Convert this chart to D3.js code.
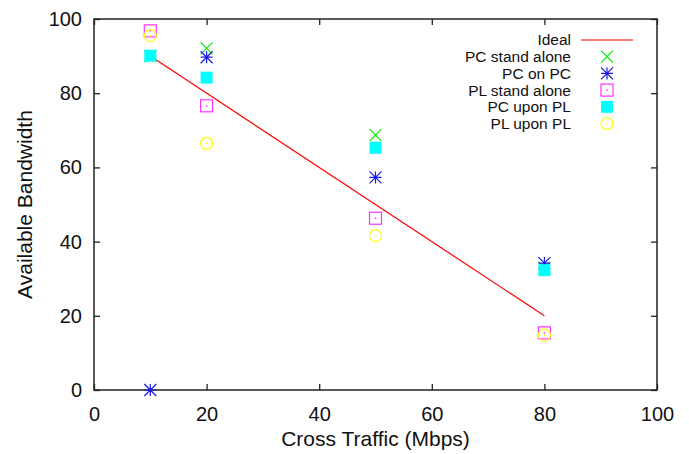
<!DOCTYPE html>
<html>
<head>
<meta charset="utf-8">
<script src="https://cdn.jsdelivr.net/npm/d3@7"></script>
<style>
  body { margin: 0; background: #fff; }
  svg { display: block; font-family: "Liberation Sans", Arial, sans-serif; }
</style>
</head>
<body>
<svg id="chart" width="689" height="454"></svg>
<script>
// data
const xTicks = [0, 20, 40, 60, 80, 100];
const yTicks = [0, 20, 40, 60, 80, 100];
const idealX = [10, 80];
const idealY = [90, 20];
const traffic = [10, 20, 50, 80];
const pcStandAlone = [90, 92.1, 68.7, 33];
const pcOnPc = [0, 89.7, 57.3, 34.2];
const plStandAlone = [96.8, 76.6, 46.3, 15.4];
const pcUponPl = [90.1, 84.2, 65.3, 32.3];
const plUponPl = [95.5, 66.5, 41.6, 14.8];

const series = [
  { name: 'PC stand alone', values: pcStandAlone, shape: 'cross', color: '#00ee00' },
  { name: 'PC on PC', values: pcOnPc, shape: 'star', color: '#1a1ae6' },
  { name: 'PL stand alone', values: plStandAlone, shape: 'boxdot', color: '#ff33ff' },
  { name: 'PC upon PL', values: pcUponPl, shape: 'fillbox', color: '#00ffff' },
  { name: 'PL upon PL', values: plUponPl, shape: 'circle', color: '#ffff00' }
];

const margin = { top: 19, right: 32, bottom: 64, left: 94 };
const width = 689, height = 454;

const svg = d3.select('#chart');

const x = d3.scaleLinear().domain([0, 100]).range([margin.left, width - margin.right]);
const y = d3.scaleLinear().domain([0, 100]).range([height - margin.bottom, margin.top]);

const frameColor = '#222';
const tickLen = 6;

// frame
svg.append('rect')
  .attr('x', x(0)).attr('y', y(100))
  .attr('width', x(100) - x(0)).attr('height', y(0) - y(100))
  .attr('fill', 'none').attr('stroke', frameColor).attr('stroke-width', 1.5);

// axes with inward ticks, mirrored on top and right
const axB = d3.axisBottom(x).tickValues(xTicks).tickSizeInner(-tickLen).tickSizeOuter(0).tickPadding(17);
const axT = d3.axisTop(x).tickValues(xTicks).tickSizeInner(-tickLen).tickSizeOuter(0).tickFormat('');
const axL = d3.axisLeft(y).tickValues(yTicks).tickSizeInner(-tickLen).tickSizeOuter(0).tickPadding(12);
const axR = d3.axisRight(y).tickValues(yTicks).tickSizeInner(-tickLen).tickSizeOuter(0).tickFormat('');

function styleAxis(g) {
  g.select('.domain').remove();
  g.selectAll('line').attr('stroke', frameColor).attr('stroke-width', 1.3);
  g.selectAll('text').attr('fill', '#111').style('font-size', '20px').style('font-family', '"Liberation Sans", Arial, sans-serif');
}

svg.append('g').attr('transform', `translate(0,${y(0)})`).call(axB).call(styleAxis);
svg.append('g').attr('transform', `translate(0,${y(100)})`).call(axT).call(styleAxis);
svg.append('g').attr('transform', `translate(${x(0)},0)`).call(axL).call(styleAxis);
svg.append('g').attr('transform', `translate(${x(100)},0)`).call(axR).call(styleAxis);

// axis titles
svg.append('text')
  .attr('x', (x(0) + x(100)) / 2).attr('y', 446)
  .attr('text-anchor', 'middle').attr('fill', '#111').style('font-size', '21px')
  .text('Cross Traffic (Mbps)');

svg.append('text')
  .attr('transform', `translate(32,${(y(0) + y(100)) / 2}) rotate(-90)`)
  .attr('text-anchor', 'middle').attr('fill', '#111').style('font-size', '21px')
  .text('Available Bandwidth');

// ideal line
const line = d3.line().x(d => x(d[0])).y(d => y(d[1]));
svg.append('path')
  .datum(d3.zip(idealX, idealY))
  .attr('d', line)
  .attr('fill', 'none').attr('stroke', '#ff0000').attr('stroke-width', 1.2);

// point symbols
const s = 6;
function drawSymbol(g, shape, color) {
  if (shape === 'cross') {
    g.append('path').attr('d', `M${-s},${-s}L${s},${s}M${-s},${s}L${s},${-s}`)
      .attr('stroke', color).attr('stroke-width', 1.2).attr('fill', 'none');
  } else if (shape === 'star') {
    g.append('path').attr('d', `M${-s},${-s}L${s},${s}M${-s},${s}L${s},${-s}M0,${-s}L0,${s}M${-s},0L${s},0`)
      .attr('stroke', color).attr('stroke-width', 1.2).attr('fill', 'none');
  } else if (shape === 'boxdot') {
    g.append('rect').attr('x', -s).attr('y', -s).attr('width', 2 * s).attr('height', 2 * s)
      .attr('stroke', color).attr('stroke-width', 1.2).attr('fill', 'none');
    g.append('rect').attr('x', -0.75).attr('y', -0.75).attr('width', 1.5).attr('height', 1.5).attr('fill', color);
  } else if (shape === 'fillbox') {
    g.append('rect').attr('x', -s).attr('y', -s).attr('width', 2 * s).attr('height', 2 * s)
      .attr('fill', color);
  } else if (shape === 'circle') {
    g.append('circle').attr('r', s).attr('stroke', color).attr('stroke-width', 1.2).attr('fill', 'none');
    g.append('rect').attr('x', -0.75).attr('y', -0.75).attr('width', 1.5).attr('height', 1.5).attr('fill', color);
  }
}

series.forEach(ser => {
  ser.values.forEach((v, i) => {
    const g = svg.append('g').attr('transform', `translate(${x(traffic[i])},${y(v)})`);
    drawSymbol(g, ser.shape, ser.color);
  });
});

// legend
const legX = 571, legY0 = 40, legStep = 16.7, symX = 607;
const legend = svg.append('g');
legend.append('text').attr('x', legX).attr('y', legY0).attr('dy', '0.35em')
  .attr('text-anchor', 'end').attr('fill', '#111').style('font-size', '15.5px').text('Ideal');
legend.append('line').attr('x1', 581).attr('x2', 633).attr('y1', legY0).attr('y2', legY0)
  .attr('stroke', '#ff0000').attr('stroke-width', 1.2);
series.forEach((ser, i) => {
  const ly = legY0 + (i + 1) * legStep;
  legend.append('text').attr('x', legX).attr('y', ly).attr('dy', '0.35em')
    .attr('text-anchor', 'end').attr('fill', '#111').style('font-size', '15.5px').text(ser.name);
  drawSymbol(legend.append('g').attr('transform', `translate(${symX},${ly})`), ser.shape, ser.color);
});
</script>
</body>
</html>
